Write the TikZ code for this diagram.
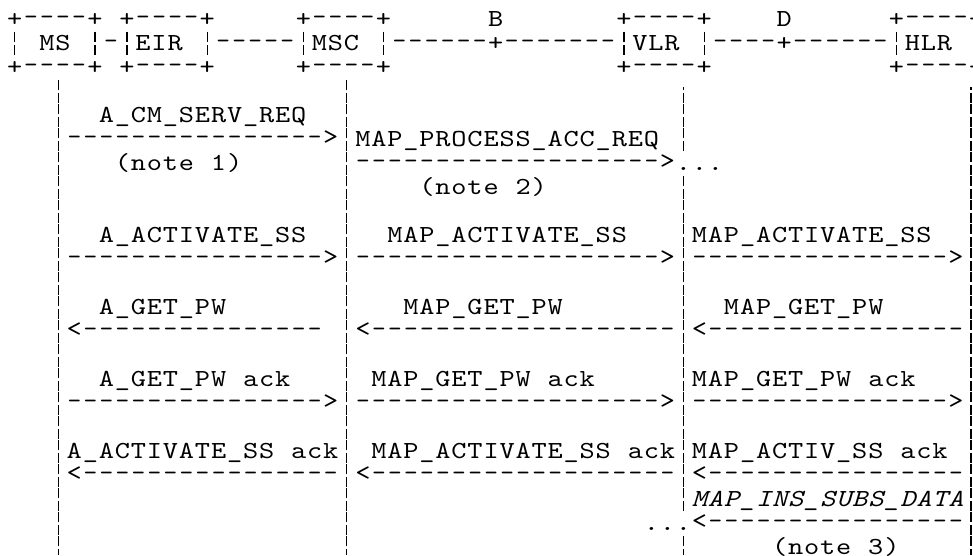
\documentclass[tikz,border=0pt]{standalone}
\usepackage{fontspec}
\usepackage{graphicx}
\newfontfamily\monofnt{lmmono10-regular.otf}[FakeStretch=1.18]
\newfontfamily\monoitfnt{lmmono10-italic.otf}[FakeStretch=1.18]
\newlength\cw \setlength\cw{16.03pt}
\newlength\dr \setlength\dr{2pt}
\newcount\dcnt
\makeatletter
\def\dashtok{-}
\newcommand\cellbox[1]{\makebox[\cw]{#1}}
\newcommand\onedash{\raisebox{\dr}{\scalebox{0.9}[1]{-}}}
\newcommand\dashcell{\cellbox{\onedash}}
\newcommand\gridtext[1]{\@tfor\tch:=#1\do{\cellbox{\ifx\tch\dashtok\onedash\else\tch\fi}}}
\makeatother
\newcommand\dashes[1]{\dcnt=0\relax\loop\ifnum\dcnt<#1\relax\dashcell\advance\dcnt by 1\relax\repeat}
\newcommand\arrR[1]{\dashes{#1}\cellbox{\raisebox{\dr}{>}}}
\newcommand\arrL[1]{\cellbox{\raisebox{\dr}{<}}\dashes{#1}}
\tikzset{
  txt/.style={anchor=base west, inner sep=0pt, outer sep=0pt, text=black,
    font=\monofnt\fontsize{24.5pt}{26pt}\selectfont},
  itxt/.style={txt, font=\monoitfnt\fontsize{24.5pt}{26pt}\selectfont},
  lifeline/.style={line width=1.2pt, black, dash pattern=on 10pt off 3.5pt on 10pt off 0.5pt},
  hdrbar/.style={line width=1.2pt, black}
}
% header cell left: 6.8+16.03c ; body cell left: 2.2+16.03c ; baseline row r: 26+24r
\begin{document}
\begin{tikzpicture}[x=1pt,y=-1pt]
\useasboundingbox (0,0) rectangle (973,555);
% ---------- header row 0
\node[txt] (msT)  at (6.8+16.03*0, 26) {\gridtext{+----+}};
\node[txt] (eirT) at (6.8+16.03*7, 26) {\gridtext{+----+}};
\node[txt] (mscT) at (6.8+16.03*18,26) {\gridtext{+----+}};
\node[txt] (lblB) at (6.8+16.03*30,26) {\gridtext{B}};
\node[txt] (vlrT) at (6.8+16.03*38,26) {\gridtext{+----+}};
\node[txt] (lblD) at (6.8+16.03*48,26) {\gridtext{D}};
\node[txt] (hlrT) at (6.8+16.03*55,26) {\gridtext{+----+}};
% ---------- header row 1
\node[txt] (msN)  at (6.8+16.03*2, 50) {\gridtext{MS}};
\node[txt] (l1)   at (6.8+16.03*6, 50) {\gridtext{-}};
\node[txt] (eirN) at (6.8+16.03*8, 50) {\gridtext{EIR}};
\node[txt] (l2)   at (6.8+16.03*13,50) {\gridtext{-----}};
\node[txt] (mscN) at (6.8+16.03*19,50) {\gridtext{MSC}};
\node[txt] (l3)   at (6.8+16.03*24,50) {\gridtext{------+-------}};
\node[txt] (vlrN) at (6.8+16.03*39,50) {\gridtext{VLR}};
\node[txt] (l4)   at (6.8+16.03*44,50) {\gridtext{----+------}};
\node[txt] (hlrN) at (6.8+16.03*56,50) {\gridtext{HLR}};
% ---------- header row 2
\node[txt] (msB)  at (6.8+16.03*0, 74) {\gridtext{+----+}};
\node[txt] (eirB) at (6.8+16.03*7, 74) {\gridtext{+----+}};
\node[txt] (mscB) at (6.8+16.03*18,74) {\gridtext{+----+}};
\node[txt] (vlrB) at (6.8+16.03*38,74) {\gridtext{+----+}};
\node[txt] (hlrB) at (6.8+16.03*55,74) {\gridtext{+----+}};
% header broken bars
\foreach \c in {0,5,7,12,18,23,38,43,55}{
  \draw[hdrbar] (14.8+16.03*\c,31.5) -- (14.8+16.03*\c,41.5);
  \draw[hdrbar] (14.8+16.03*\c,45) -- (14.8+16.03*\c,55);
}
% ---------- lifelines
\coordinate (msTop)  at (58.29,79.5);  \coordinate (msBot)  at (58.29,555);
\coordinate (mscTop) at (346.83,79.5); \coordinate (mscBot) at (346.83,555);
\coordinate (vlrTop) at (683.46,87);   \coordinate (vlrA)   at (683.46,151);
\coordinate (vlrB1)  at (683.46,175.5);\coordinate (vlrB2)  at (683.46,511);
\coordinate (vlrC)   at (683.46,535.5);\coordinate (vlrBot) at (683.46,555);
\coordinate (hlrTop) at (971,87);      \coordinate (hlrBot) at (971,555);
\draw[lifeline] (msTop) -- (msBot);
\draw[lifeline] (mscTop) -- (mscBot);
\draw[lifeline, dash phase=7.5pt] (vlrTop) -- (vlrA);
\draw[lifeline] (vlrB1) -- (vlrB2);
\draw[lifeline] (vlrC) -- (vlrBot);
\draw[lifeline, dash phase=7.5pt] (hlrTop) -- (hlrBot);
% ---------- body rows (baseline 26+24r)
\node[txt] (m1)  at (2.2+16.03*6, 26+24*4) {\gridtext{A\_CM\_SERV\_REQ}};
\node[txt] (a1)  at (2.2+16.03*4, 26+24*5) {\arrR{16}};
\node[txt] (m2)  at (2.2+16.03*22,26+24*5) {\gridtext{MAP\_PROCESS\_ACC\_REQ}};
\node[txt] (n1)  at (2.2+16.03*7, 26+24*6) {\gridtext{(note~1)}};
\node[txt] (a2)  at (2.2+16.03*22,26+24*6) {\arrR{19}\gridtext{...}};
\node[txt] (n2)  at (2.2+16.03*26,26+24*7) {\gridtext{(note~2)}};
% activate
\node[txt] (m3)  at (2.2+16.03*6, 26+24*9) {\gridtext{A\_ACTIVATE\_SS}};
\node[txt] (m4)  at (2.2+16.03*24,26+24*9) {\gridtext{MAP\_ACTIVATE\_SS}};
\node[txt] (m5)  at (2.2+16.03*43,26+24*9) {\gridtext{MAP\_ACTIVATE\_SS}};
\node[txt] (a3)  at (2.2+16.03*4, 26+24*10) {\arrR{16}};
\node[txt] (a4)  at (2.2+16.03*22,26+24*10) {\arrR{19}};
\node[txt] (a5)  at (2.2+16.03*43,26+24*10) {\arrR{16}};
% get pw
\node[txt] (m6)  at (2.2+16.03*6, 26+24*12) {\gridtext{A\_GET\_PW}};
\node[txt] (m7)  at (2.2+16.03*25,26+24*12) {\gridtext{MAP\_GET\_PW}};
\node[txt] (m8)  at (2.2+16.03*45,26+24*12) {\gridtext{MAP\_GET\_PW}};
\node[txt] (a6)  at (2.2+16.03*4, 26+24*13) {\arrL{15}};
\node[txt] (a7)  at (2.2+16.03*22,26+24*13) {\arrL{19}};
\node[txt] (a8)  at (2.2+16.03*43,26+24*13) {\arrL{16}};
% get pw ack
\node[txt] (m9)  at (2.2+16.03*6, 26+24*15) {\gridtext{A\_GET\_PW~ack}};
\node[txt] (m10) at (2.2+16.03*23,26+24*15) {\gridtext{MAP\_GET\_PW~ack}};
\node[txt] (m11) at (2.2+16.03*43,26+24*15) {\gridtext{MAP\_GET\_PW~ack}};
\node[txt] (a9)  at (2.2+16.03*4, 26+24*16) {\arrR{16}};
\node[txt] (a10) at (2.2+16.03*22,26+24*16) {\arrR{19}};
\node[txt] (a11) at (2.2+16.03*43,26+24*16) {\arrR{16}};
% activate ack
\node[txt] (m12) at (2.2+16.03*4, 26+24*18) {\gridtext{A\_ACTIVATE\_SS~ack}};
\node[txt] (m13) at (2.2+16.03*23,26+24*18) {\gridtext{MAP\_ACTIVATE\_SS~ack}};
\node[txt] (m14) at (2.2+16.03*43,26+24*18) {\gridtext{MAP\_ACTIV\_SS~ack}};
\node[txt] (a12) at (2.2+16.03*4, 26+24*19) {\arrL{16}};
\node[txt] (a13) at (2.2+16.03*22,26+24*19) {\arrL{19}};
\node[txt] (a14) at (2.2+16.03*43,26+24*19) {\arrL{16}};
% insert subscriber data
\node[itxt] (m15) at (2.2+16.03*43,26+24*20) {\gridtext{MAP\_INS\_SUBS\_DATA}};
\node[txt] (a15) at (2.2+16.03*40,26+24*21) {\gridtext{...}\arrL{16}};
\node[txt] (n3)  at (2.2+16.03*48,26+24*22) {\gridtext{(note~3)}};
\end{tikzpicture}
\end{document}
